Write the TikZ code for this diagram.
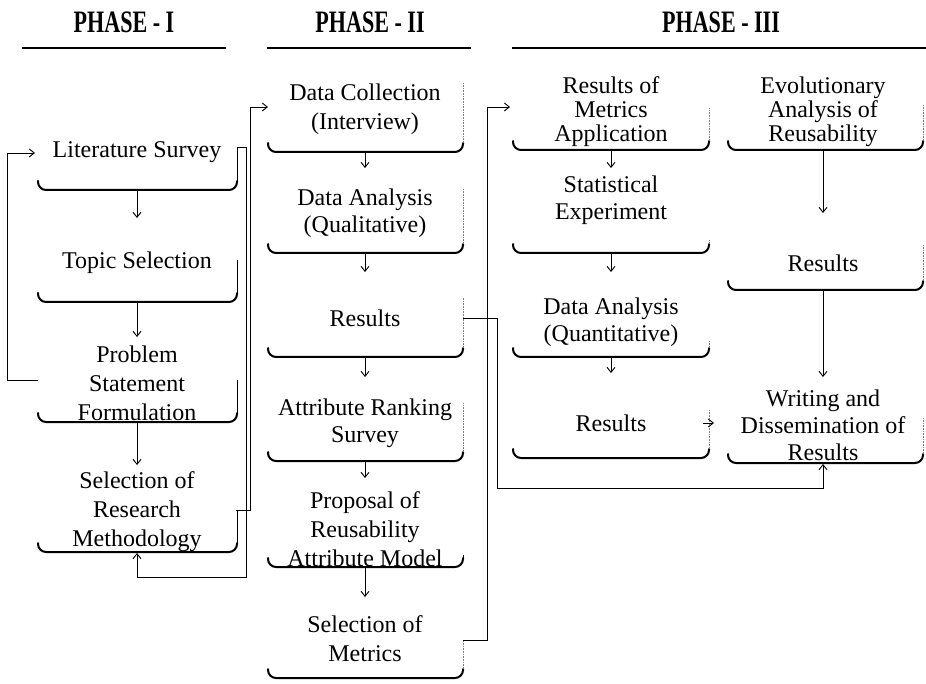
\documentclass[tikz,border=0pt]{standalone}
\usepackage{fontspec}
\setmainfont{Liberation Serif}
\usetikzlibrary{arrows.meta}
% bottom bracket of a box: #1 left x, #2 right x, #3 bottom y, #4 top of right side, #5 style of right side
\newcommand\bracketbox[5]{%
  \draw[brk, rounded corners=8pt] (#1,#3-9) |- (#2,#3) -- (#2,#3-9);
  \draw[#5] (#2,#3-9) -- (#2,#4);}
\begin{document}
\begin{tikzpicture}[x=1pt,y=-1pt,
  lbl/.style={font=\fontsize{24}{29}\selectfont, align=center, inner sep=0pt},
  tight/.style={font=\fontsize{24}{24}\selectfont},
  mid/.style={font=\fontsize{24}{27}\selectfont},
  arr/.style={line width=0.9pt, -{Straight Barb[length=5pt,width=8pt]}},
  brk/.style={line width=2pt, line cap=round},
  side/.style={line width=0.7pt},
  faint/.style={line width=0.6pt, densely dotted, black!50},
  head/.style={font=\fontsize{24}{28}\selectfont\bfseries, inner sep=0pt},
  rule/.style={line width=2pt}
]
\useasboundingbox (0,0) rectangle (926,684);

% ---------- headings ----------
\node[head] (h1) at (124,22) {\scalebox{0.92}[1.3]{PHASE - I}};
\node[head] (h2) at (370,22) {\scalebox{0.92}[1.3]{PHASE - II}};
\node[head] (h3) at (721,22) {\scalebox{0.92}[1.3]{PHASE - III}};
\draw[rule] (22,48) -- (226,48);
\draw[rule] (267,48) -- (471,48);
\draw[rule] (512,48) -- (926,48);

% ---------- phase I ----------
\node[lbl] (ls)  at (137,152) {Literature Survey};
\node[lbl] (ts)  at (137,263) {Topic Selection};
\node[lbl] (psf) at (137,383) {Problem\\Statement\\Formulation};
\node[lbl] (srm) at (137,512) {Selection of\\Research\\Methodology};
\bracketbox{38}{237}{190}{147}{side}
\bracketbox{38}{237}{302}{260}{side}
\bracketbox{38}{237}{422}{380}{side}
\bracketbox{38}{237}{552}{510}{side}

\coordinate (ls-out)  at (137,190);  \coordinate (ts-in)  at (137,218);
\coordinate (ts-out)  at (137,302);  \coordinate (psf-in) at (137,337);
\coordinate (psf-out) at (137,422);  \coordinate (srm-in) at (137,465);
\coordinate (psf-w) at (38,380);     \coordinate (ls-w)  at (35,153);
\coordinate (ls-e)  at (237,147);    \coordinate (srm-s) at (137,553);
\coordinate (srm-e) at (236,510);

\draw[arr] (ls-out) -- (ts-in);
\draw[arr] (ts-out) -- (psf-in);
\draw[arr] (psf-out) -- (srm-in);
\draw[arr] (psf-w) -- ++(-31,0) |- (ls-w);
\draw[arr] (ls-e) -- ++(9,0) -- ++(0,430) -| (srm-s);

% ---------- phase II ----------
\node[lbl] (dc)   at (365,109) {Data Collection\\(Interview)};
\node[lbl,mid] (dql) at (365,213) {Data Analysis\\(Qualitative)};
\node[lbl] (r2)   at (365,318) {Results};
\node[lbl,mid] (ars) at (365,423) {Attribute Ranking\\Survey};
\node[lbl] (pram) at (365,529) {Proposal of\\Reusability\\Attribute Model};
\node[lbl] (som)  at (365,639) {Selection of\\Metrics};
\bracketbox{268}{463}{152}{83}{faint}
\bracketbox{268}{463}{253}{188}{faint}
\bracketbox{268}{463}{357}{298}{faint}
\bracketbox{268}{463}{461}{403}{faint}
\bracketbox{268}{463}{567}{555}{side}
\bracketbox{268}{463}{678}{640}{faint}

\coordinate (dc-in) at (268,107);
\draw[arr] (srm-e) -- ++(14,0) |- (dc-in);

\coordinate (dc-out)   at (365,152); \coordinate (dql-in)  at (365,168);
\coordinate (dql-out)  at (365,253); \coordinate (r2-in)   at (365,272);
\coordinate (r2-out)   at (365,357); \coordinate (ars-in)  at (365,377);
\coordinate (ars-out)  at (365,461); \coordinate (pram-in) at (365,478);
\coordinate (pram-out) at (365,567); \coordinate (som-in)  at (365,597);
\coordinate (r2-e)  at (463,318);    \coordinate (som-e)  at (463,640);

\draw[arr] (dc-out) -- (dql-in);
\draw[arr] (dql-out) -- (r2-in);
\draw[arr] (r2-out) -- (ars-in);
\draw[arr] (ars-out) -- (pram-in);
\draw[arr] (pram-out) -- (som-in);

% ---------- phase III ----------
\node[lbl,tight] (rma) at (611,112) {Results of\\Metrics\\Application};
\node[lbl,mid] (se)    at (611,200) {Statistical\\Experiment};
\node[lbl,mid] (dqn)   at (611,322) {Data Analysis\\(Quantitative)};
\node[lbl] (r3)        at (611,423) {Results};
\node[lbl,tight] (ear) at (823,112) {Evolutionary\\Analysis of\\Reusability};
\node[lbl] (r4)        at (823,263) {Results};
\node[lbl,mid] (wdr)   at (823,425) {Writing and\\Dissemination of\\Results};
\bracketbox{513}{709}{150}{108}{faint}
\bracketbox{513}{709}{253}{240}{faint}
\bracketbox{513}{709}{357}{340}{faint}
\bracketbox{513}{709}{458}{410}{faint}
\bracketbox{728}{923}{150}{105}{faint}
\bracketbox{728}{923}{290}{245}{faint}
\bracketbox{728}{923}{463}{418}{faint}

\coordinate (rma-in)  at (510,107);
\coordinate (rma-out) at (611,150); \coordinate (se-in)  at (611,168);
\coordinate (se-out)  at (611,253); \coordinate (dqn-in) at (611,272);
\coordinate (dqn-out) at (611,357); \coordinate (r3-in)  at (611,373);
\coordinate (ear-out) at (823,150); \coordinate (r4-in)  at (823,213);
\coordinate (r4-out)  at (823,290); \coordinate (wdr-in) at (823,377);
\coordinate (r3-e)    at (703,423); \coordinate (wdr-w)  at (714,423);
\coordinate (wdr-s)   at (823,464);

\draw[arr] (som-e) -- ++(24,0) |- (rma-in);
\draw[arr] (r2-e) -- ++(34,0) -- ++(0,170) -| (wdr-s);
\draw[arr] (rma-out) -- (se-in);
\draw[arr] (se-out) -- (dqn-in);
\draw[arr] (dqn-out) -- (r3-in);
\draw[arr] (ear-out) -- (r4-in);
\draw[arr] (r4-out) -- (wdr-in);
\draw[arr] (r3-e) -- (wdr-w);
\end{tikzpicture}
\end{document}
